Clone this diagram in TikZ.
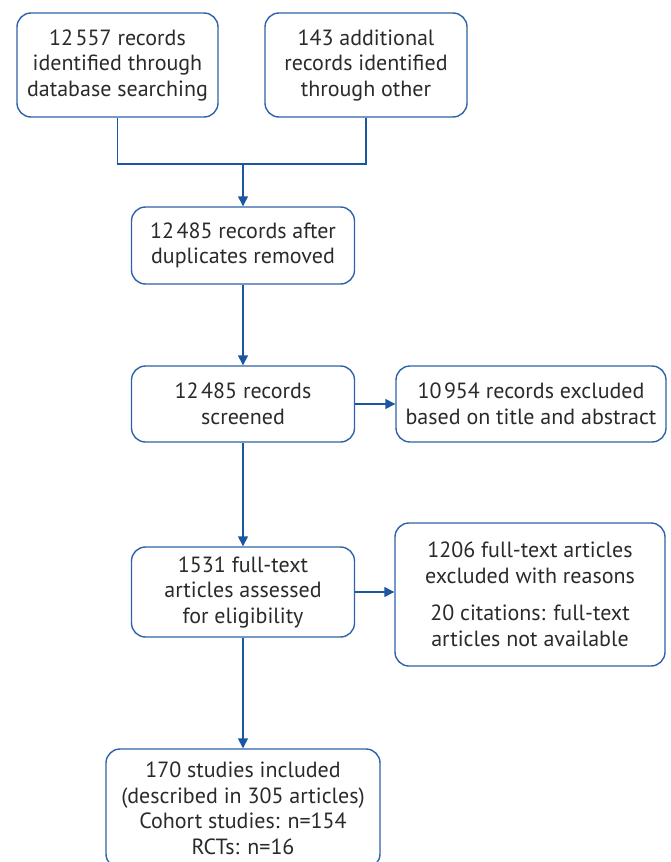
\documentclass[tikz,border=0pt]{standalone}
\usepackage{fontspec}
\setmainfont{PT Sans}
\usetikzlibrary{arrows.meta}
\definecolor{boxblue}{HTML}{2E62AA}
\definecolor{arrblue}{HTML}{1B56A0}
\definecolor{txt}{HTML}{2A2A2A}
\newcommand{\tsp}{\kern2.5pt}
\begin{document}
\begin{tikzpicture}[x=1pt,y=-1pt,
  box/.style={draw=boxblue,line width=1.4pt,rounded corners=14pt,align=center,text=txt,
    font=\fontsize{22}{25.5}\selectfont,inner sep=0pt},
  conn/.style={draw=arrblue,line width=1.4pt},
  arr/.style={conn,-{Triangle[length=10pt,width=10pt]}}]
\useasboundingbox (0,0) rectangle (670,862);
\node[box,minimum width=201pt,minimum height=104pt] (b1) at (117.5,65)
  {12\tsp557 records\\identified through\\database searching};
\node[box,minimum width=202pt,minimum height=104pt] (b2) at (366,65)
  {143 additional\\records identified\\through other};
\node[box,minimum width=223pt,minimum height=77pt] (b3) at (243,245.5)
  {12\tsp485 records after\\duplicates removed};
\node[box,minimum width=223pt,minimum height=76pt] (b4) at (243,404)
  {12\tsp485 records\\screened};
\node[box,minimum width=270pt,minimum height=76pt] (b5) at (531,404)
  {10\tsp954 records excluded\\based on title and abstract};
\node[box,minimum width=223pt,minimum height=90pt] (b6) at (243,592)
  {1531 full-text\\articles assessed\\for eligibility};
\node[box,minimum width=270pt,minimum height=143pt] (b7) at (530,594.5)
  {1206 full-text articles\\excluded with reasons\\[12pt]20 citations: full-text\\articles not available};
\node[box,minimum width=274pt,minimum height=119pt] (b8) at (243,808.5)
  {170 studies included\\(described in 305 articles)\\Cohort studies: n=154\\RCTs: n=16};
\coordinate (m) at (243,164);
\draw[conn] (b1.south) |- (m);
\draw[conn] (b2.south) |- (m);
\draw[arr] (m) -- (b3.north);
\draw[arr] (b3.south) -- (b4.north);
\draw[arr] (b4.east) -- (b5.west);
\draw[arr] (b4.south) -- (b6.north);
\draw[arr] (b6.east) -- (b6.east -| b7.west);
\draw[arr] (b6.south) -- (b8.north);
\end{tikzpicture}
\end{document}
